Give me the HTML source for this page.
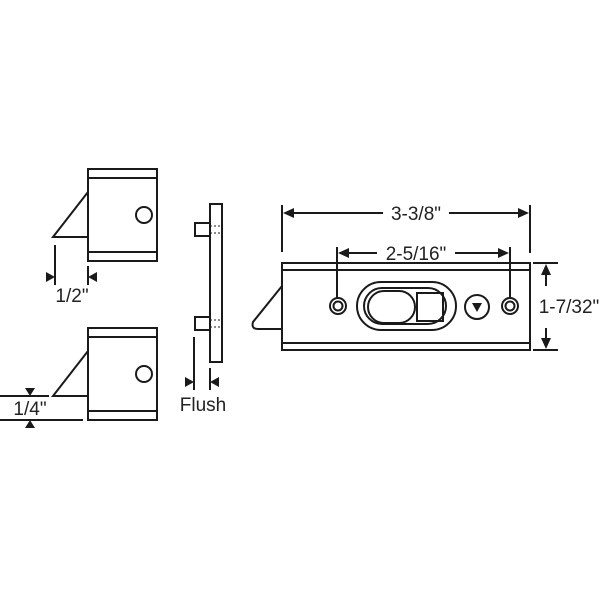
<!DOCTYPE html>
<html><head><style>body{margin:0;background:#fff}svg{display:block}text{font-family:"Liberation Sans",sans-serif;fill:#222}</style></head><body>
<svg width="600" height="600" viewBox="0 0 600 600" xmlns="http://www.w3.org/2000/svg">
<g fill="none" stroke="#1a1a1a" stroke-width="2">
<rect x="88" y="169" width="69" height="92"/>
<line x1="88" y1="178" x2="157" y2="178"/><line x1="88" y1="252" x2="157" y2="252"/>
<polyline points="88,192 53,237 88,237"/>
<circle cx="144" cy="215" r="8"/>
<line x1="55" y1="245" x2="55" y2="285"/><line x1="88" y1="266" x2="88" y2="285"/>
<rect x="88" y="328" width="69" height="92"/>
<line x1="88" y1="337" x2="157" y2="337"/><line x1="88" y1="411" x2="157" y2="411"/>
<polyline points="88,351 53,396 88,396"/>
<circle cx="144" cy="374" r="8"/>
<line x1="0" y1="396" x2="49" y2="396"/><line x1="0" y1="420" x2="83" y2="420"/>
<rect x="210" y="204" width="12" height="158"/>
<rect x="195" y="223" width="15" height="13"/>
<rect x="195" y="317" width="15" height="13"/>
<line x1="194" y1="337" x2="194" y2="390"/><line x1="210" y1="368" x2="210" y2="390"/>
<rect x="282" y="263" width="248" height="87"/>
<line x1="282" y1="270" x2="530" y2="270"/><line x1="282" y1="343" x2="530" y2="343"/>
<path d="M282,286 L253,322 Q251,329 258,329 L282,329"/>
<circle cx="338" cy="306" r="8"/><circle cx="338" cy="306" r="4.5"/>
<circle cx="510" cy="306" r="8"/><circle cx="510" cy="306" r="4.5"/>
<rect x="357" y="282" width="99" height="48" rx="24"/>
<rect x="364" y="288" width="82" height="36" rx="18"/>
<rect x="368" y="291" width="47" height="32" rx="16"/>
<rect x="417" y="293" width="26" height="28"/>
<circle cx="477" cy="307" r="12"/>
<line x1="282" y1="205" x2="282" y2="252"/><line x1="530" y1="205" x2="530" y2="253"/>
<line x1="288" y1="213" x2="383" y2="213"/><line x1="449" y1="213" x2="524" y2="213"/>
<line x1="337" y1="247" x2="337" y2="298"/><line x1="510" y1="247" x2="510" y2="298"/>
<line x1="343" y1="253" x2="377" y2="253"/><line x1="455" y1="253" x2="504" y2="253"/>
<line x1="533" y1="263" x2="558" y2="263"/><line x1="533" y1="350" x2="558" y2="350"/>
<line x1="546" y1="268" x2="546" y2="286"/><line x1="546" y1="328" x2="546" y2="345"/>
</g>
<g stroke="#1a1a1a" stroke-width="1" stroke-dasharray="2,2">
<line x1="210" y1="226" x2="222" y2="226"/><line x1="210" y1="233" x2="222" y2="233"/>
<line x1="210" y1="320" x2="222" y2="320"/><line x1="210" y1="327" x2="222" y2="327"/>
</g>
<g fill="#1a1a1a">
<polygon points="55,277 46,272 46,282"/><polygon points="88,277 97,272 97,282"/>
<polygon points="30,396 25,388 35,388"/><polygon points="30,420 25,428 35,428"/>
<polygon points="194,382 185,377 185,387"/><polygon points="210,382 219,377 219,387"/>
<polygon points="283,213 294,208 294,218"/><polygon points="529,213 518,208 518,218"/>
<polygon points="338,253 349,248 349,258"/><polygon points="509,253 498,248 498,258"/>
<polygon points="546,264 541,275 551,275"/><polygon points="546,349 541,338 551,338"/>
<polygon points="472,303 482,303 477,312"/>
</g>
<g font-size="19" text-anchor="middle">
<text x="72" y="302">1/2"</text>
<text x="30" y="415">1/4"</text>
<text x="203" y="411">Flush</text>
<text x="416" y="220">3-3/8"</text>
<text x="416" y="260">2-5/16"</text>
<text x="569" y="313">1-7/32"</text>
</g>
</svg>
</body></html>
